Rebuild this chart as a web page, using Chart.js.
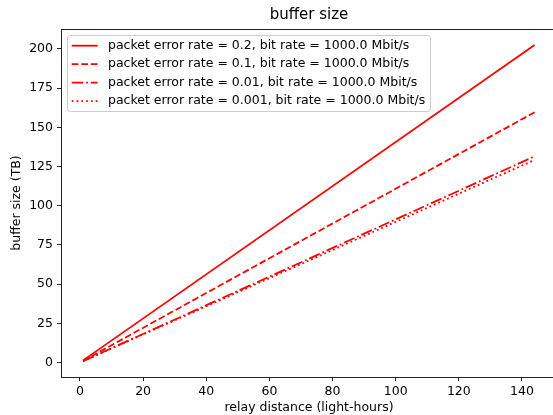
<!DOCTYPE html>
<html>
<head>
<meta charset="utf-8">
<script src="https://cdn.jsdelivr.net/npm/chart.js@4/dist/chart.umd.min.js"></script>
<style>
html,body{margin:0;padding:0;overflow:hidden;background:#fff;}
#wrap{width:560px;height:415px;position:relative;}
</style>
</head>
<body>
<div id="wrap"><canvas id="bufferChart"></canvas></div>
<script>

/* DATA */

const distance=[1,144];
const labels=[
"packet error rate = 0.2, bit rate = 1000.0 Mbit/s",
"packet error rate = 0.1, bit rate = 1000.0 Mbit/s",
"packet error rate = 0.01, bit rate = 1000.0 Mbit/s",
"packet error rate = 0.001, bit rate = 1000.0 Mbit/s"
];
const per02=[1.4,202.5];
const per01=[1.1,159.6];
const per001=[0.9,131.5];
const per0001=[0.9,129.2];

const xTicks=[0,20,40,60,80,100,120,140];
const yTicks=[0,25,50,75,100,125,150,175,200];

const FONT="'DejaVu Sans', sans-serif";
const FS=12.5;

const series=[per02,per01,per001,per0001];
const dashes=[[],[6.7,2.9],[11.5,2.9,1.8,2.9],[1.8,3]];

const datasets=series.map((vals,i)=>({
label:labels[i],
data:distance.map((d,j)=>({x:d,y:vals[j]})),
borderColor:"#ff0000",
borderWidth:1.8,
borderDash:dashes[i],
pointRadius:0,
fill:false,
tension:0
}));


/* TITLE, TOP SPINE, LEGEND */

const extras={
id:"extras",
afterDraw(chart){
const ctx=chart.ctx;
const a=chart.chartArea;
ctx.save();

ctx.strokeStyle="#222";
ctx.lineWidth=1;
ctx.beginPath();
ctx.moveTo(a.left,Math.round(a.top)+0.5);
ctx.lineTo(a.right,Math.round(a.top)+0.5);
ctx.stroke();

ctx.fillStyle="#000";
ctx.font="15px "+FONT;
ctx.textAlign="center";
ctx.textBaseline="middle";
ctx.fillText("buffer size",(a.left+a.right)/2,15.5);

const lx=67.5,ly=35.5,lw=363,lh=76,r=3;
ctx.beginPath();
ctx.moveTo(lx+r,ly);
ctx.lineTo(lx+lw-r,ly);
ctx.arcTo(lx+lw,ly,lx+lw,ly+r,r);
ctx.lineTo(lx+lw,ly+lh-r);
ctx.arcTo(lx+lw,ly+lh,lx+lw-r,ly+lh,r);
ctx.lineTo(lx+r,ly+lh);
ctx.arcTo(lx,ly+lh,lx,ly+lh-r,r);
ctx.lineTo(lx,ly+r);
ctx.arcTo(lx,ly,lx+r,ly,r);
ctx.closePath();
ctx.fillStyle="rgba(255,255,255,0.8)";
ctx.fill();
ctx.strokeStyle="#cccccc";
ctx.stroke();

ctx.font=FS+"px "+FONT;
ctx.textAlign="left";
chart.data.datasets.forEach((ds,i)=>{
const y=45.7+i*18.5;
ctx.strokeStyle=ds.borderColor;
ctx.lineWidth=ds.borderWidth;
ctx.setLineDash(ds.borderDash);
ctx.beginPath();
ctx.moveTo(71.7,y);
ctx.lineTo(97.7,y);
ctx.stroke();
ctx.setLineDash([]);
ctx.fillStyle="#000";
ctx.fillText(ds.label,108,y);
});

ctx.restore();
}
};


/* CHART */

new Chart(document.getElementById("bufferChart"),{

type:"line",

data:{datasets:datasets},

options:{
responsive:true,
maintainAspectRatio:false,
animation:false,
layout:{padding:{top:29,right:3,left:0,bottom:0}},
plugins:{legend:{display:false},tooltip:{enabled:false}},
scales:{
x:{
type:"linear",
min:-6.0,
max:151.1,
afterBuildTicks:s=>{s.ticks=xTicks.map(v=>({value:v}));},
afterFit:s=>{s.height=38;},
grid:{drawOnChartArea:false,drawTicks:true,tickLength:4,tickColor:"#222",tickWidth:1},
border:{display:true,color:"#222",width:1},
ticks:{color:"#000",font:{family:FONT,size:FS},padding:3,maxRotation:0,autoSkip:false},
title:{display:true,text:"relay distance (light-hours)",color:"#000",font:{family:FONT,size:FS},padding:{top:0,bottom:0}}
},
y:{
type:"linear",
min:-9.2,
max:212.7,
afterBuildTicks:s=>{s.ticks=yTicks.map(v=>({value:v}));},
afterFit:s=>{s.width=61;},
grid:{drawOnChartArea:false,drawTicks:true,tickLength:4,tickColor:"#222",tickWidth:1},
border:{display:true,color:"#222",width:1},
ticks:{color:"#000",font:{family:FONT,size:FS},padding:4,autoSkip:false},
title:{display:true,text:"buffer size (TB)",color:"#000",font:{family:FONT,size:FS},padding:{top:9,bottom:0}}
}
}
},

plugins:[extras]

});

</script>
</body>
</html>
